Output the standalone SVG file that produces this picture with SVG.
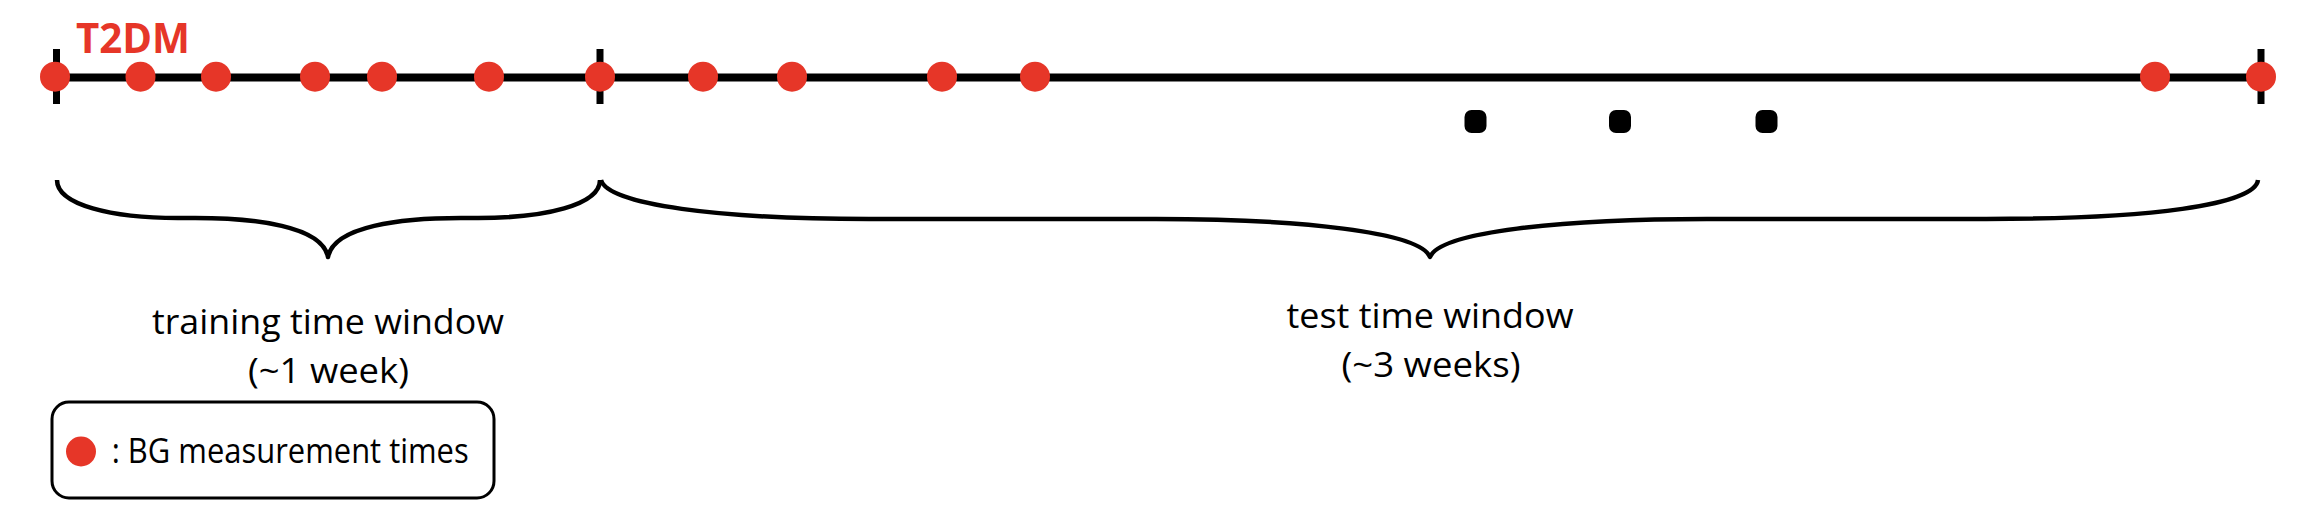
<svg xmlns="http://www.w3.org/2000/svg" width="2310" height="528" viewBox="0 0 2310 528">
  <style>
    .axis { stroke: #000; stroke-width: 8; fill: none; }
    .tick { stroke: #000; stroke-width: 7; fill: none; }
    .dot { fill: #E63628; }
    .ell { fill: #000; }
    .brace { stroke: #000; stroke-width: 4.5; fill: none; stroke-linejoin: round; }
    .lbl { font-family: "Open Sans", "Liberation Sans", sans-serif; font-size: 34px; fill: #000; }
    .title { font-family: "Open Sans", "Liberation Sans", sans-serif; font-size: 41px; font-weight: bold; fill: #E63628; }
  </style>
  <rect width="2310" height="528" fill="#fff"/>

  <text id="title" class="title" x="76" y="53" textLength="114" lengthAdjust="spacingAndGlyphs">T2DM</text>

  <g id="connectors">
    <line class="axis" x1="55" y1="77.5" x2="2261" y2="77.5"/>
    <line class="tick" x1="56.5" y1="49" x2="56.5" y2="104"/>
    <line class="tick" x1="600" y1="49" x2="600" y2="104"/>
    <line class="tick" x1="2261" y1="49" x2="2261" y2="104"/>
    <path id="brace-training" class="brace" d="M57,180 C57,205 112,218 178,218 L195,218 C255,218 322,226 328,257 C334,226 401,218 461,218 L478,218 C545,218 600,205 600,180"/>
    <path id="brace-test" class="brace" d="M601,180 C608,205 720,219 869,219 L1156,219 C1300,219 1420,232 1430,257 C1440,232 1560,219 1707,219 L1986,219 C2150,219 2255,205 2258,180"/>
  </g>

  <g id="measurements">
    <circle class="dot" cx="55" cy="76.7" r="15"/>
    <circle class="dot" cx="140.5" cy="76.7" r="15"/>
    <circle class="dot" cx="216" cy="76.7" r="15"/>
    <circle class="dot" cx="315" cy="76.7" r="15"/>
    <circle class="dot" cx="382" cy="76.7" r="15"/>
    <circle class="dot" cx="489" cy="76.7" r="15"/>
    <circle class="dot" cx="600" cy="76.7" r="15"/>
    <circle class="dot" cx="703" cy="76.7" r="15"/>
    <circle class="dot" cx="792" cy="76.7" r="15"/>
    <circle class="dot" cx="942" cy="76.7" r="15"/>
    <circle class="dot" cx="1035" cy="76.7" r="15"/>
    <circle class="dot" cx="2155" cy="76.7" r="15"/>
    <circle class="dot" cx="2261" cy="76.7" r="15"/>
  </g>

  <g id="ellipsis">
    <rect class="ell" x="1464.5" y="110" width="22" height="23" rx="7"/>
    <rect class="ell" x="1609" y="110" width="22" height="23" rx="7"/>
    <rect class="ell" x="1755.5" y="110" width="22" height="23" rx="7"/>
  </g>

  <g id="training-label">
    <text class="lbl" x="328" y="334" text-anchor="middle" textLength="352" lengthAdjust="spacingAndGlyphs">training time window</text>
    <text class="lbl" x="328.5" y="383" text-anchor="middle" textLength="161" lengthAdjust="spacingAndGlyphs">(~1 week)</text>
  </g>

  <g id="test-label">
    <text class="lbl" x="1430" y="328" text-anchor="middle" textLength="287" lengthAdjust="spacingAndGlyphs">test time window</text>
    <text class="lbl" x="1431" y="377" text-anchor="middle" textLength="179" lengthAdjust="spacingAndGlyphs">(~3 weeks)</text>
  </g>

  <g id="legend">
    <rect x="52" y="402" width="442" height="96" rx="17" fill="#fff" stroke="#000" stroke-width="3"/>
    <circle class="dot" cx="81" cy="451.5" r="15"/>
    <text class="lbl" x="111.7" y="463" textLength="357" lengthAdjust="spacingAndGlyphs">: BG measurement times</text>
  </g>
</svg>
